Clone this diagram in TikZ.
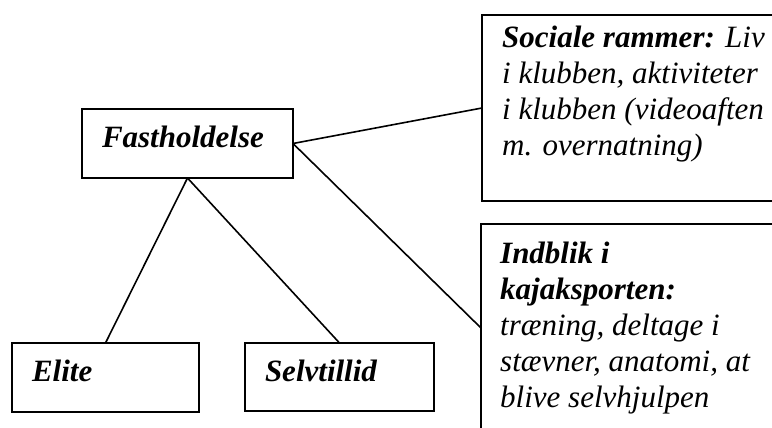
\documentclass[tikz,border=0pt]{standalone}
\usepackage{fontspec}
\setmainfont{Liberation Serif}
\usetikzlibrary{positioning}

\begin{document}
\begin{tikzpicture}[
		x=1pt,y=-1pt,
		box/.style={
			draw,
			line width=2pt,
			inner sep=0pt,
			outer sep=0pt
		},
		onebox/.style={
			box,
			align=left,
			inner xsep=20pt,
			text height=20pt,
			text depth=12pt,
			font=\fontsize{31}{36}\selectfont\bfseries\itshape
		},
		note/.style={
			align=left,
			inner sep=0pt,
			font=\fontsize{31}{36}\selectfont\itshape
		},
		link/.style={line width=1.6pt}
		]
		\clip (0,0) rectangle (772,428);
		
		\node[onebox,text width=171pt,minimum height=69pt] (fast) at (187.5,143.5)
		{Fastholdelse};
		
		\node[onebox,text width=147pt,minimum height=69pt] (elite) at (105.5,377.5)
		{Elite};
		
		\node[onebox,text width=149pt,minimum height=68pt] (selv) at (339.5,377)
		{Selvtillid};
		
		\node[box,minimum width=308pt,minimum height=186pt] (soc) at (636,108) {};
		\node[note,below right=11pt and 20pt of soc.north west] (soctext)
		{\textbf{Sociale rammer:} Liv\\
			i klubben, aktiviteter\\
			i klubben (videoaften\\
			m. overnatning)};
		
		\node[box,minimum width=309pt,minimum height=208pt] (ind) at (635.5,328) {};
		\node[note,below right=18pt and 19pt of ind.north west] (indtext)
		{\textbf{Indblik i}\\
			\textbf{kajaksporten:}\\
			træning, deltage i\\
			stævner, anatomi, at\\
			blive selvhjulpen};
		
		\draw[link] (fast.east)--(soc.west);
		\draw[link] (fast.east)--(ind.west);
		\draw[link] (fast.south)--(elite.north);
		\draw[link] (fast.south)--(selv.north);
		
	\end{tikzpicture}
\end{document}
